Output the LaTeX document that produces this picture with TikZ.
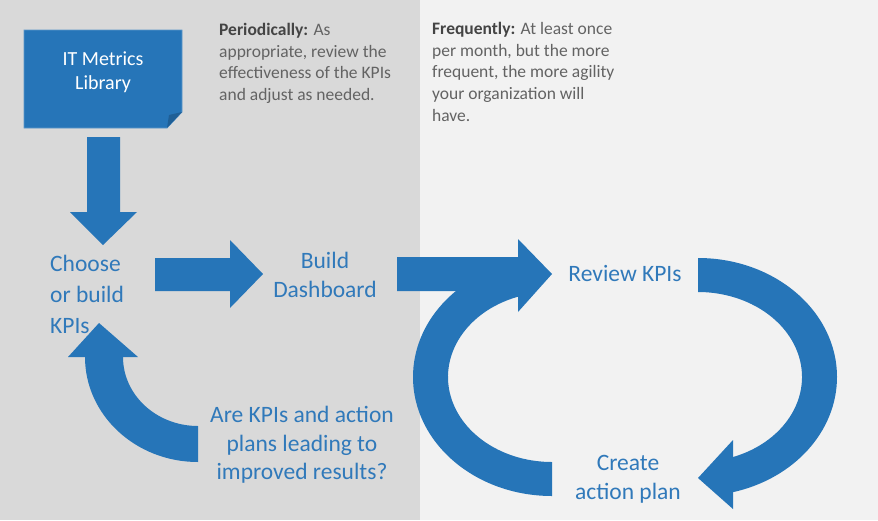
\documentclass[tikz,border=0pt]{standalone}
\usepackage{fontspec}
\setmainfont{Carlito}
\usetikzlibrary{calc}
\definecolor{arrowblue}{HTML}{2675B8}
\definecolor{foldblue}{HTML}{1F5F96}
\definecolor{stepblue}{HTML}{3079BA}
\definecolor{leftgray}{HTML}{D9D9D9}
\definecolor{rightgray}{HTML}{F2F2F2}
\definecolor{notegray}{HTML}{636363}
\definecolor{notedark}{HTML}{444444}
\begin{document}
\begin{tikzpicture}[
  x=1pt, y=1pt,
  %% blue block arrows
  blockarrow/.style={fill=arrowblue, draw=none},
  %% big blue step labels
  steptext/.style={text=stepblue, inner sep=0pt, align=center,
                   font=\fontsize{23.5}{29}\selectfont},
  %% gray notes at the top
  notetext/.style={text=notegray, inner sep=0pt, align=left,
                   anchor=north west, font=\fontsize{17.5}{21.7}\selectfont},
  %% library box
  libbox/.style={fill=arrowblue, draw=arrowblue!75!white, line width=0.8pt}
]

%% ── Background panels ────────────────────────────────────────────────
\fill[leftgray]  (0,0) rectangle (420,-520);
\fill[rightgray] (420,0) rectangle (878,-520);
\useasboundingbox (0,0) rectangle (878,-520);

%% ── Library box with folded corner ───────────────────────────────────
\path[libbox] (24,-30) -- (182,-30) -- (182,-112) -- (167,-128)
  -- (24,-128) -- cycle;
\fill[foldblue] (182,-112) -- (169,-115) -- (167,-128) -- cycle;
\node[text=white, inner sep=0pt, align=center,
      font=\fontsize{20}{24}\selectfont] (library) at (103,-72)
  {IT Metrics\\Library};

%% ── Notes ────────────────────────────────────────────────────────────
\node[notetext] (periodic) at (219,-23)
  {{\color{notedark}\bfseries Periodically:} As\\
   appropriate, review the\\
   effectiveness of the KPIs\\
   and adjust as needed.};
\node[notetext] (frequent) at (432,-22)
  {{\color{notedark}\bfseries Frequently:} At least once\\
   per month, but the more\\
   frequent, the more agility\\
   your organization will\\
   have.};

%% ── Step labels ──────────────────────────────────────────────────────
\node[steptext, align=left, anchor=west,
      font=\fontsize{23.5}{31}\selectfont] (choose) at (50,-294)
  {Choose\\or build\\KPIs};
\node[steptext] (build)  at (325,-275) {Build\\Dashboard};
\node[steptext] (review) at (625,-273) {Review KPIs};
\node[steptext] (create) at (628,-479) {Create\\action plan};
\node[steptext, font=\fontsize{23.5}{28.5}\selectfont] (check) at (302,-445)
  {Are KPIs and action\\plans leading to\\improved results?};

%% ── Arrows ───────────────────────────────────────────────────────────
%% library -> choose (straight down)
\fill[blockarrow] (87,-137) -- (120,-137) -- (120,-212) -- (137,-212)
  -- (103,-245) -- (70,-212) -- (87,-212) -- cycle;

%% choose -> build
\fill[blockarrow] (155,-258) -- (230,-258) -- (230,-240) -- (263,-274)
  -- (230,-308) -- (230,-291) -- (155,-291) -- cycle;

%% build -> review
\fill[blockarrow] (397,-257) -- (518,-257) -- (518,-239) -- (552,-274)
  -- (518,-312) -- (518,-291) -- (397,-291) -- cycle;

%% create -> review (left half-ring, ends under the head)
\coordinate (leftc) at (552,-377);
\fill[blockarrow] (leftc) ++(270:139 and 119)
  arc[start angle=270, end angle=104.2, x radius=139, y radius=119]
  -- ($(leftc)+(109.1:104 and 85)$)
  arc[start angle=109.1, end angle=270, x radius=104, y radius=85]
  -- cycle;

%% review -> create (right half-ring with head)
\coordinate (rightc) at (698,-377);
\fill[blockarrow] (rightc) ++(90:139 and 119)
  arc[start angle=90, end angle=-75.4, x radius=139, y radius=119]
  -- ($(rightc)+(-70.3:104 and 85)$)
  arc[start angle=-70.3, end angle=90, x radius=104, y radius=85]
  -- cycle;
\fill[blockarrow] (733,-440) -- (698,-478) -- (733,-509) -- cycle;

%% check -> choose (quarter ring with head)
\coordinate (lowc) at (198,-357);
\fill[blockarrow] (lowc) ++(270:113 and 105)
  arc[start angle=270, end angle=180, x radius=113, y radius=105]
  -- (123,-357)
  arc[start angle=180, end angle=270, x radius=75, y radius=69]
  -- cycle;
\fill[blockarrow] (68,-357) -- (99,-323) -- (138,-357) -- cycle;

\end{tikzpicture}
\end{document}
